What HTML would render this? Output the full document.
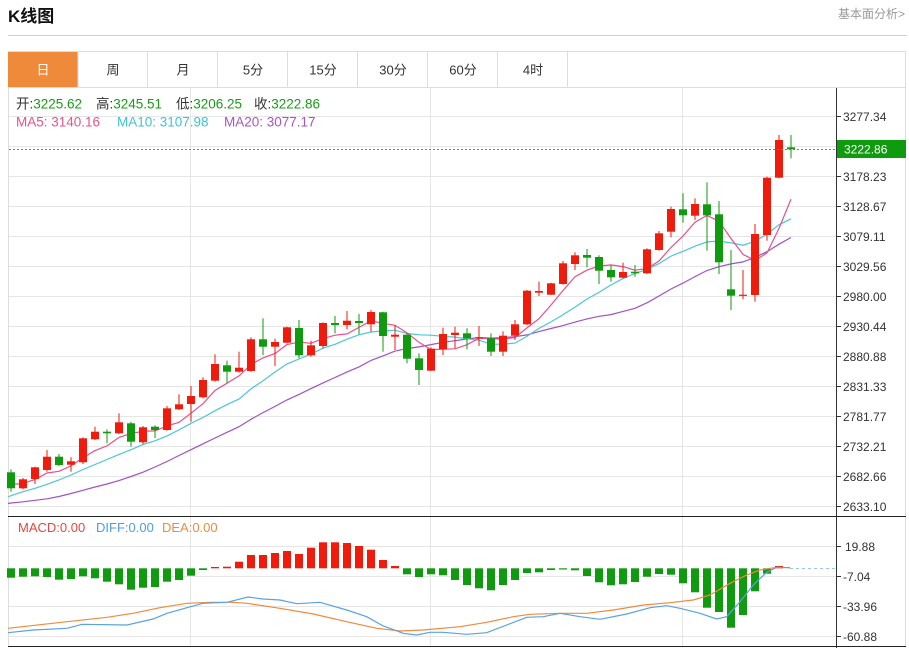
<!DOCTYPE html>
<html><head><meta charset="utf-8">
<style>
html,body{margin:0;padding:0;background:#fff;width:909px;height:648px;overflow:hidden;}
svg{display:block;font-family:"Liberation Sans","Noto Sans CJK SC",sans-serif;}
</style></head>
<body>
<svg id="c" width="909" height="648" viewBox="0 0 909 648" xmlns="http://www.w3.org/2000/svg">
<rect x="0" y="0" width="909" height="648" fill="#fff"/>
<text x="8" y="22" font-size="17" font-weight="bold" fill="#111">K线图</text>
<text x="905" y="18" font-size="12" fill="#999" text-anchor="end">基本面分析&gt;</text>
<line x1="8" y1="35.5" x2="907" y2="35.5" stroke="#cfcfcf" stroke-width="1"/>
<!-- tabs -->
<rect x="8.5" y="51.5" width="897" height="36" fill="#fff" stroke="#ddd"/>
<rect x="8" y="52" width="69.5" height="35" fill="#ef8a3b"/>
<g stroke="#ddd">
<line x1="78" y1="52" x2="78" y2="87"/><line x1="147.5" y1="52" x2="147.5" y2="87"/>
<line x1="217.5" y1="52" x2="217.5" y2="87"/><line x1="287.5" y1="52" x2="287.5" y2="87"/>
<line x1="357.5" y1="52" x2="357.5" y2="87"/><line x1="427.5" y1="52" x2="427.5" y2="87"/>
<line x1="497.5" y1="52" x2="497.5" y2="87"/><line x1="567.5" y1="52" x2="567.5" y2="87"/>
</g>
<g font-size="13" text-anchor="middle" fill="#333">
<text x="43" y="74.5" fill="#fff">日</text>
<text x="113" y="74.5">周</text>
<text x="183" y="74.5">月</text>
<text x="253" y="74.5">5分</text>
<text x="323" y="74.5">15分</text>
<text x="393" y="74.5">30分</text>
<text x="463" y="74.5">60分</text>
<text x="533" y="74.5">4时</text>
</g>
<!-- frame -->
<line x1="8.5" y1="87" x2="8.5" y2="647" stroke="#ddd"/>
<line x1="905.5" y1="87" x2="905.5" y2="647" stroke="#ddd"/>
<!-- grid -->
<g stroke="#e6e6e6" stroke-width="1" id="grid"></g>
<g id="ma"></g>
<g id="candles"></g>
<g id="macd"></g>
<!-- current price dotted -->
<line x1="9" y1="149.5" x2="836" y2="149.5" stroke="#2fb52f" stroke-width="1" stroke-dasharray="2,2"/>
<line x1="790" y1="568.5" x2="836" y2="568.5" stroke="#9cc6e6" stroke-width="1" stroke-dasharray="3,3"/>
<!-- axes -->
<line x1="836.5" y1="88" x2="836.5" y2="648" stroke="#333"/>
<line x1="8" y1="516.5" x2="906" y2="516.5" stroke="#222"/>
<line x1="8" y1="646.5" x2="906" y2="646.5" stroke="#222"/>
<g stroke="#333" id="ticks"></g>
<g font-size="12" fill="#333">
<text x="843" y="120.8">3277.34</text>
<text x="843" y="180.8">3178.23</text>
<text x="843" y="210.8">3128.67</text>
<text x="843" y="240.8">3079.11</text>
<text x="843" y="270.8">3029.56</text>
<text x="843" y="300.8">2980.00</text>
<text x="843" y="330.8">2930.44</text>
<text x="843" y="360.8">2880.88</text>
<text x="843" y="390.8">2831.33</text>
<text x="843" y="420.8">2781.77</text>
<text x="843" y="450.8">2732.21</text>
<text x="843" y="480.8">2682.66</text>
<text x="843" y="510.8">2633.10</text>
<text x="845" y="550.8">19.88</text>
<text x="843" y="580.8">-7.04</text>
<text x="843" y="610.8">-33.96</text>
<text x="843" y="640.8">-60.88</text>
</g>
<rect x="837" y="140" width="69" height="18" fill="#0e9b0e"/>
<text x="844" y="153.5" font-size="12" fill="#fff">3222.86</text>
<!-- legends -->
<g font-size="13.5">
<text x="16" y="108.5" fill="#333">开:<tspan fill="#1a9a1a">3225.62</tspan></text>
<text x="96" y="108.5" fill="#333">高:<tspan fill="#1a9a1a">3245.51</tspan></text>
<text x="176" y="108.5" fill="#333">低:<tspan fill="#1a9a1a">3206.25</tspan></text>
<text x="254" y="108.5" fill="#333">收:<tspan fill="#1a9a1a">3222.86</tspan></text>
<text x="16" y="126.5" fill="#e8538a">MA5: 3140.16</text>
<text x="117" y="126.5" fill="#3fc2d6">MA10: 3107.98</text>
<text x="224" y="126.5" fill="#a656c4">MA20: 3077.17</text>
</g>
<g font-size="13">
<text x="18" y="532" fill="#e8453e">MACD:0.00</text>
<text x="96" y="532" fill="#4f9de0">DIFF:0.00</text>
<text x="162" y="532" fill="#f08a3c">DEA:0.00</text>
</g>
</svg>
<script>
(function(){
var NS='http://www.w3.org/2000/svg';
function add(g,tag,attrs){var e=document.createElementNS(NS,tag);for(var k in attrs)e.setAttribute(k,attrs[k]);g.appendChild(e);return e;}
var grid=document.getElementById('grid');
for(var k=0;k<14;k++){var y=116.5+30*k;add(grid,'line',{x1:9,y1:y,x2:836,y2:y});}
[546.5,576.5,606.5,636.5].forEach(function(y){add(grid,'line',{x1:9,y1:y,x2:836,y2:y});});
[190.5,430.5,682.5].forEach(function(x){add(grid,'line',{x1:x,y1:88,x2:x,y2:646});});
var ticks=document.getElementById('ticks');
for(var k=0;k<14;k++){var y=116.5+30*k;add(ticks,'line',{x1:836,y1:y,x2:841,y2:y});}
[546.5,576.5,606.5,636.5].forEach(function(y){add(ticks,'line',{x1:836,y1:y,x2:841,y2:y});});
var D=[
[472.3,488.3,469.3,491.7,0],[479.3,488.3,478,489.3,1],[467.3,479,466.7,484,1],[456.7,470,450,471.7,1],
[456.7,465,454,466,0],[461.3,464.7,457.3,471.7,1],[438.3,462.3,437.3,464,1],[431.7,439.3,426.7,440,1],
[431.7,433.3,429.3,443.3,0],[422.3,433.3,413.3,434,1],[423.3,441.7,421.7,446.7,0],[427.3,442.3,426,444,1],
[426.7,430,425.3,438,0],[408.3,430,406,430.7,1],[404.3,409.3,394.3,410,1],[396,404,386,421.7,1],
[380,397.3,377.3,398.3,1],[364,380.7,354.3,381.7,1],[365.3,371.7,360.7,382.7,0],[367.7,371.7,351.7,372.7,1],
[339.3,371,337.3,371.7,1],[339.3,346.7,318.3,355,0],[342,346.7,338.7,366,1],[327.3,342.7,326.7,343.3,1],
[328,355.3,320,358.3,0],[345.3,355.3,340.7,356.7,1],[323,346,322.3,348.3,1],[323,325,316,333.3,0],
[320.7,325,311,329.3,1],[321,323,314,334.3,0],[312,324.3,310,331.7,1],[312.3,336,311.7,351.7,0],
[334.7,336.7,325,350,1],[334.7,358.7,333.3,363.3,0],[358.3,370,353.3,385,0],[348.7,370.7,347.3,371,1],
[334,349.3,327.7,355,1],[332.7,335,326.7,348.3,1],[333.3,338.3,328.3,349.3,0],[337.3,338.3,326,346,1],
[338.3,351.7,333.3,356,0],[335.7,351.7,331.3,356,1],[324.3,335.7,320,340,1],[290.7,324.3,290,325,1],
[291,292.7,281.7,296,1],[283.3,294.7,282.7,295,1],[263.3,284,261,284.7,1],[255.3,264,252.3,270,1],
[255,257.7,249,267.3,0],[257,270.7,255.3,284,0],[270,277.3,265,281.7,0],[272,277.7,262.7,278.3,1],
[271.7,273.3,265,276.7,0],[249.3,273.3,248.3,274,1],[233.3,250,231,250.7,1],[209,231.7,206.7,237.3,1],
[209.3,215.3,193.3,222.7,0],[204,215.7,198.3,220,1],[204.3,215.3,182.3,250.7,0],[214.3,262.3,201,274,0],
[289.3,295.7,250,310,0],[294.7,295.7,270,299.3,1],[234,295,224,301.7,1],[177.7,235,176.7,240.7,1],
[140,177.7,135,178.3,1],[147.3,149.3,135,158.3,0]];
var RED='#ef1c0e',GRN='#0f9a0f';
var cg=document.getElementById('candles');
D.forEach(function(d,i){
  var x=11+12*i,col=d[4]?RED:GRN;
  add(cg,'rect',{x:x-0.5,y:d[2],width:1,height:Math.max(1,d[3]-d[2]),fill:col});
  add(cg,'rect',{x:x-4,y:d[0],width:8,height:Math.max(1.2,d[1]-d[0]),fill:col});
});
var C=D.map(function(d){return d[4]?d[0]:d[1];});
function ma(n,early,x0v){
  var pts=[[8,x0v]];
  for(var i=0;i<C.length;i++){
    var v;
    if(i>=n-1){var s=0;for(var j=i-n+1;j<=i;j++)s+=C[j];v=s/n;}else v=early[i];
    pts.push([11+12*i,v]);
  }
  return pts.map(function(p){return p[0]+','+p[1].toFixed(1);}).join(' ');
}
var mg=document.getElementById('ma');
add(mg,'polyline',{points:ma(20,[503,501.8,500.3,498.8,496.5,493.5,490.3,487,484,480.6,476.5,472.2,467,461.5,455.5,449.7,443.8,438,432.3],503.5),fill:'none',stroke:'#a052c4','stroke-width':1.2});
add(mg,'polyline',{points:ma(10,[495.7,491.7,488.3,484.3,480,475,469.5,464.5,459.5],497),fill:'none',stroke:'#4cc6d6','stroke-width':1.2});
add(mg,'polyline',{points:ma(5,[484.5,483.5,479.5,473],485),fill:'none',stroke:'#e8508a','stroke-width':1.2});
var H=[577.7,576.7,576.3,577,579.7,579,576.3,578.3,581.7,584.3,589.7,587.7,587,581.7,580,575.7,570,567,566.7,561.7,555,555,553,551,554,547.7,542.3,542.3,543,546,549.7,560,566,574.3,577,574.3,575.3,580,585,588.3,590.3,585,580,573,572.3,570,569.5,570.3,576,582.3,585.3,584.3,582,576.7,574,574.7,583.3,592.3,607.7,612,627.7,615,591.3,573.7,566,568.3];
var Z=568.3,hg=document.getElementById('macd');
H.forEach(function(v,i){
  var x=11+12*i;
  if(Math.abs(v-Z)<0.5)return;
  if(v>Z)add(hg,'rect',{x:x-4,y:Z,width:8,height:v-Z,fill:GRN});
  else add(hg,'rect',{x:x-4,y:v,width:8,height:Z-v,fill:RED});
});
var DIFF=[[8,632.7],[33,630],[67,628.3],[82,624.3],[127,625],[153,619],[167,613.3],[187,607.7],[203,603.3],[227,602.3],[248,597],[263,599],[280,600],[296.7,603.7],[320,602.3],[346.7,610],[366.7,616.7],[383.3,626],[403.3,633.3],[416.7,635],[430,632.3],[443,632.3],[466.7,634.3],[486.7,632.7],[506.7,625],[526.7,617.3],[543.3,616.7],[560,613.3],[580,616.7],[600,619.3],[626.7,614],[650,607.7],[666.7,605.7],[680,608.3],[700,613.3],[716.7,619],[726.7,616.7],[740,601.7],[753.3,585],[766.7,572.3],[776.7,567.3],[790,567.7]];
var DEA=[[8,628.3],[67,621.7],[107,617.3],[133,613.3],[160,607.7],[187,603.3],[210,602.3],[233,602.3],[247,603.3],[280,608.3],[313.3,614],[346.7,621.7],[376.7,628.3],[400,631],[423.3,630],[460,626.7],[486.7,622.3],[513.3,616.7],[530,614.3],[560,613.3],[586.7,613.3],[613.3,610],[643.3,605],[670,602.7],[693.3,600],[710,595],[730,583.3],[746.7,575],[760,570],[776.7,567.3],[790,567.7]];
function pts(a){return a.map(function(p){return p[0]+','+p[1];}).join(' ');}
add(hg,'polyline',{points:pts(DEA),fill:'none',stroke:'#f08a3c','stroke-width':1.2});
add(hg,'polyline',{points:pts(DIFF),fill:'none',stroke:'#5aa2e2','stroke-width':1.2});
})();
</script>
</body></html>
